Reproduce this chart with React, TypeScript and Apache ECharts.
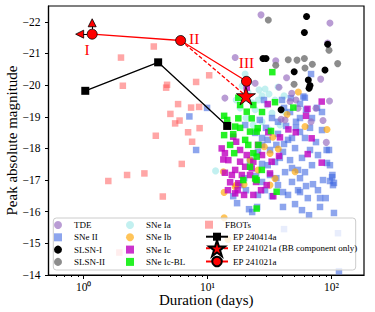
import React, { useEffect, useRef } from "react";
import * as echarts from "echarts";

const FONT = "'Liberation Serif', 'Times New Roman', serif";

// ---- axis ticks ----
const yTickValues = [-22, -21, -20, -19, -18, -17, -16, -15, -14];
const xMajorTicks = [1, 10, 100];
const xMinorTicks = [0.6, 0.7, 0.8, 0.9, 2, 3, 4, 5, 6, 7, 8, 9, 20, 30, 40, 50, 60, 70, 80, 90];
const superscripts: Record<number, string> = { 0: "\u2070", 1: "\u00B9", 2: "\u00B2" };

// ---- data: [duration (days), peak absolute magnitude] ----
const tde = [
  [27.0, -22.22], [97.2, -21.96], [93.1, -21.33], [16.7, -20.87], [35.5, -20.77], [43.4, -20.23],
  [81.8, -20.19], [37.7, -19.93], [13.8, -19.59], [24.2, -20.06], [47.8, -19.74], [51.7, -19.53],
  [46.3, -19.48], [96.4, -19.5], [75.0, -19.27], [53.7, -19.27], [39.2, -18.92], [68.4, -18.84],
  [85.4, -18.88], [90.8, -18.19], [42.2, -18.9],
];
const snII = [
  [28.5, -19.53], [39.9, -19.53], [55.7, -19.41], [62.3, -19.22], [76.4, -19.28], [46.3, -19.15],
  [33.1, -18.96], [51.7, -18.84], [43.0, -18.71], [67.1, -18.65], [83.8, -18.58], [55.7, -18.52],
  [37.0, -18.46], [29.6, -18.65], [27.5, -18.33], [44.6, -18.27], [61.1, -18.33], [75.0, -18.2],
  [95.5, -17.95], [92.0, -17.54], [101, -17.09], [102.8, -16.84], [85.4, -17.0], [50.8, -18.01],
  [40.6, -17.89], [31.9, -17.95], [25.5, -17.89], [22.0, -17.63], [27.5, -17.51], [35.0, -17.57],
  [46.3, -17.63], [57.8, -17.7], [69.6, -17.47], [53.7, -17.32], [42.2, -17.25], [31.9, -17.16],
  [24.6, -17.13], [19.7, -17.06], [27.5, -16.94], [37.0, -16.84], [48.0, -16.94], [62.3, -16.81],
  [77.8, -16.68], [55.7, -16.62], [44.6, -16.53], [53.7, -16.68], [70.9, -16.87], [97.2, -16.97],
  [104.7, -16.91], [16.1, -16.49], [17.3, -16.27], [21.6, -16.08], [22.9, -15.99], [25.1, -16.15],
  [40.6, -16.15], [50.8, -16.24], [57.8, -16.05], [65.9, -15.89], [80.8, -16.15], [104.7, -15.96],
  [41.4, -15.45], [112.8, -15.32], [114.9, -14.12], [7.13, -19.01], [8.08, -17.95], [9.9, -19.28],
  [68.4, -20.35], [30.6, -18.27], [35.9, -18.11], [41.4, -18.14], [48.0, -18.33], [38.3, -17.7],
  [30.6, -17.47], [48.0, -17.38], [61.1, -17.25], [35.9, -17.06], [29.1, -16.68], [40.6, -16.62],
  [64.4, -16.43], [80.8, -16.43], [89.8, -16.43], [33.1, -16.49], [55.7, -17.06], [67.1, -17.95],
  [77.8, -17.79], [25.5, -16.53], [20.4, -16.68], [18.3, -16.84], [27.5, -18.11], [24.2, -18.49],
  [20.1, -18.74], [26.4, -18.9], [37.0, -18.84], [55.7, -18.96], [69.6, -18.96], [83.8, -19.15],
  [41.4, -19.28], [51.7, -18.65], [59.3, -19.64], [47.0, -19.59], [61.0, -19.6], [91.4, -17.95],
  [97.2, -17.47], [101.7, -17.16],
];
const slsn1 = [
  [62.9, -22.17], [60.4, -21.66], [93.2, -21.29], [28.0, -20.84], [29.6, -20.84], [50.0, -20.42],
  [88.6, -20.48], [65.0, -20.16], [67.1, -19.99], [65.9, -19.9], [39.2, -19.22],
];
const slsn2 = [
  [30.9, -22.06], [95.5, -21.1], [44.8, -20.8], [52.7, -20.79], [60.4, -20.84], [35.5, -20.63],
  [61.1, -20.54], [70.0, -20.66], [112.2, -20.68], [49.9, -20.03],
];
const snIa = [
  [20.1, -20.35], [21.6, -20.1], [26.0, -19.85], [29.1, -19.88], [25.6, -19.53], [33.1, -19.12],
  [30.2, -19.37], [22.9, -19.44], [27.5, -19.66], [31.3, -19.72], [37.0, -19.94], [24.2, -19.22],
  [20.4, -18.96], [27.5, -18.84], [35.0, -19.53], [41.4, -19.66], [18.3, -19.28], [23.3, -18.74],
  [31.9, -18.58], [42.2, -19.15], [11.6, -17.29], [21.2, -19.78], [19.0, -19.97], [17.0, -19.53],
  [38.4, -18.74],
];
const snIb = [
  [54.0, -19.78], [43.8, -19.07], [92.0, -18.6], [61.1, -18.69], [28.7, -18.05], [37.2, -17.98],
  [33.6, -18.35], [50.8, -17.26], [31.9, -16.84], [13.4, -17.26], [17.0, -16.84], [19.7, -16.86],
  [13.6, -16.61], [16.7, -16.79], [13.6, -15.81], [14.6, -15.12], [35.0, -17.05], [31.9, -17.84],
  [22.0, -17.63], [25.5, -17.32],
];
const snIc = [
  [20.7, -19.92], [30.6, -19.4], [83.4, -19.48], [64.0, -19.25], [62.3, -19.03], [44.9, -18.6],
  [51.5, -18.51], [69.2, -18.32], [64.3, -17.82], [83.4, -17.55], [38.4, -18.35], [30.9, -18.51],
  [31.9, -17.21], [13.0, -18.0], [13.8, -17.85], [14.7, -17.63], [15.7, -17.16], [15.2, -16.93],
  [16.7, -17.32], [18.3, -17.58], [20.1, -17.42], [22.0, -17.16], [23.4, -17.58], [17.0, -18.21],
  [16.1, -18.37], [13.4, -17.65], [16.7, -16.58], [17.5, -16.68], [23.4, -16.53], [27.0, -16.68],
  [33.9, -16.49], [30.0, -16.84], [18.9, -17.16], [22.7, -17.37], [20.7, -17.79], [32.9, -17.58],
  [37.7, -17.76], [13.8, -17.23], [17.7, -16.9], [25.5, -18.11], [27.5, -17.79], [18.3, -17.95],
  [14.6, -16.68], [24.6, -16.94], [19.7, -16.53],
];
const snIcBL = [
  [33.3, -20.41], [13.6, -19.03], [13.6, -18.42], [16.1, -18.45], [17.7, -18.95], [16.7, -18.69],
  [20.7, -19.16], [22.0, -18.53], [24.9, -18.53], [23.4, -19.37], [18.3, -19.37], [22.7, -18.95],
  [23.4, -17.85], [21.3, -18.11], [24.9, -17.74], [22.0, -17.42], [35.0, -19.46], [49.2, -19.29],
  [32.5, -18.55], [25.4, -18.64], [25.7, -18.11], [24.9, -17.0], [27.4, -17.32], [16.4, -17.85],
  [19.4, -17.0], [24.2, -17.05], [36.1, -16.63], [24.9, -16.1], [17.7, -19.6], [14.4, -18.9],
  [15.2, -18.11], [20.1, -18.27], [27.5, -19.15], [18.3, -18.65],
];
const fbots = [
  [2.0, -20.87], [3.68, -21.22], [2.07, -19.98], [4.71, -20.01], [4.63, -19.92], [5.78, -19.4],
  [5.01, -19.09], [5.94, -18.88], [5.47, -18.79], [3.82, -18.4], [6.96, -18.51], [7.36, -19.29],
  [8.54, -19.31], [7.5, -18.21], [8.62, -18.64], [1.58, -16.97], [2.24, -17.16], [3.09, -17.21],
  [6.19, -17.51], [4.35, -16.48], [1.94, -14.71], [8.08, -20.1], [10.3, -20.31],
];
const ep240414a = [[1.03, -19.82], [3.99, -20.72], [14.4, -18.71]];
const ep241021a = [[1.171, -21.61], [6.06, -21.41], [20.6, -20.12]];
const ep241021aBB = [[6.06, -21.41], [20.4, -19.66]];
const epPhaseLabels = ["I", "II", "III"];
// limit arrows on phase I: [shaft start, tip]
const upLimit = [[1.171, -21.77], [1.171, -21.97]];
const leftLimit = [[1.067, -21.61], [0.928, -21.61]];

const legendCol1 = ["TDE", "SNe II", "SLSN-I", "SLSN-II"];
const legendCol2 = ["SNe Ia", "SNe Ib", "SNe Ic", "SNe Ic-BL"];
const squareSeries = ["SNe II", "SNe Ic", "SNe Ic-BL", "FBOTs"];

const SQUARE = "path://M0,0H10V10H0Z";
const STAR = "path://M50,0L61.2,34.6L97.6,34.5L68.1,55.9L79.4,90.5L50,69L20.6,90.5L31.9,55.9L2.4,34.5L38.8,34.6Z";

const labelPlacement = [
  { position: "bottom", offset: [-5, -3] },
  { position: "right", offset: [-2, -2] },
  { position: "top", offset: [0, 0] },
];

function scatter(name: string, data: number[][], symbol: string, color: string, opacity: number, size: number, z = 2) {
  return {
    type: "scatter",
    name,
    data,
    symbol,
    symbolSize: size,
    itemStyle: { color, opacity },
    z,
    silent: true,
  };
}

const legendItems = (names: string[]) =>
  names.map((n) => (squareSeries.includes(n) ? { name: n, icon: SQUARE } : { name: n }));

export default function App() {
  const ref = useRef<HTMLDivElement>(null);
  useEffect(() => {
    const chart = echarts.init(ref.current!, null, { renderer: "svg" });
    const legendText = { fontFamily: FONT, fontSize: 9, color: "#000", lineHeight: 10 };
    const legendBase = {
      orient: "vertical",
      padding: 0,
      itemWidth: 22,
      itemHeight: 8,
      itemGap: 2.3,
      selectedMode: false,
      symbolKeepAspect: true,
      textStyle: legendText,
      z: 5,
    };
    const option: any = {
      animation: false,
      grid: {
        left: 48.5, right: 11, top: 6, bottom: 37,
        outerBoundsMode: "none",
        containLabel: false,
        show: true, borderColor: "#000", borderWidth: 1.2, backgroundColor: "transparent",
      },
      xAxis: [
        {
          type: "log", logBase: 10, min: 0.52, max: 183,
          name: "Duration (days)", nameLocation: "middle", nameGap: 17, nameMoveOverlap: false,
          nameTextStyle: { fontFamily: FONT, fontSize: 15, color: "#000" },
          axisLine: { show: true, lineStyle: { color: "#000", width: 1.2 } },
          axisTick: { show: true, customValues: xMajorTicks, length: 4, lineStyle: { color: "#000" } },
          axisLabel: {
            customValues: xMajorTicks,
            margin: 6,
            fontFamily: FONT, fontSize: 11.5, color: "#000",
            formatter: (v: number) => "10" + superscripts[Math.round(Math.log10(v))],
          },
          splitLine: { show: false },
        },
        {
          type: "log", logBase: 10, min: 0.52, max: 183, position: "bottom",
          axisLine: { show: false },
          axisTick: { show: true, customValues: xMinorTicks, length: 2, lineStyle: { color: "#000" } },
          axisLabel: { show: false },
          splitLine: { show: false },
        },
      ],
      yAxis: {
        type: "value", min: -22.5, max: -14, inverse: true,
        name: "Peak absolute magnitude", nameLocation: "middle", nameGap: 29, nameMoveOverlap: false,
        nameTextStyle: { fontFamily: FONT, fontSize: 15, lineHeight: 15, color: "#000" },
        axisLine: { show: true, lineStyle: { color: "#000", width: 1.2 } },
        axisTick: { show: true, customValues: yTickValues, length: 3.5, lineStyle: { color: "#000" } },
        axisLabel: {
          customValues: yTickValues, margin: 8,
          fontFamily: FONT, fontSize: 11.5, color: "#000",
          formatter: (v: number) => (v < 0 ? "\u2212" : "") + Math.abs(v),
        },
        splitLine: { show: false },
      },
      legend: [
        { ...legendBase, data: legendItems(legendCol1), left: 54, top: 220 },
        { ...legendBase, data: legendItems(legendCol2), left: 126, top: 220 },
        { ...legendBase, data: legendItems(["FBOTs"]), left: 205, top: 219.7, itemHeight: 8 },
        { ...legendBase, data: ["EP 240414a"], left: 205, top: 231.7, itemHeight: 10 },
        { ...legendBase, data: ["EP 241021a (BB component only)"], left: 205, top: 239.3, itemHeight: 20 },
        { ...legendBase, data: ["EP 241021a"], left: 205, top: 255.7, itemHeight: 12 },
      ],
      graphic: [
        {
          type: "rect", z: 3, silent: true,
          shape: { x: 53.3, y: 218, width: 302.4, height: 52, r: 3 },
          style: { fill: "rgba(255,255,255,0.8)", stroke: "#cccccc", lineWidth: 1 },
        },
      ],
      series: [
        scatter("SNe Ia", snIa, "circle", "#8fe3e3", 0.55, 7),
        scatter("SNe II", snII, SQUARE, "#4169e1", 0.6, 6.5),
        scatter("SNe Ib", snIb, "circle", "#ffa500", 0.65, 7),
        scatter("TDE", tde, "circle", "#9467bd", 0.65, 7),
        scatter("SLSN-II", slsn2, "circle", "#808080", 0.9, 7),
        scatter("SLSN-I", slsn1, "circle", "#000000", 1, 7),
        scatter("SNe Ic", snIc, SQUARE, "#bf00bf", 0.8, 6.5),
        scatter("SNe Ic-BL", snIcBL, SQUARE, "#00ee00", 0.85, 6.5),
        scatter("FBOTs", fbots, SQUARE, "#ff4d4d", 0.5, 6.5),
        {
          type: "line", name: "EP 240414a", data: ep240414a, z: 6,
          symbol: SQUARE, symbolSize: 8, showSymbol: true,
          lineStyle: { color: "#000", width: 1.3 },
          itemStyle: { color: "#000" },
          silent: true,
        },
        {
          type: "line", name: "EP 241021a (BB component only)", z: 6,
          data: ep241021aBB.map((p, i) => (i === 0 ? { value: p, symbol: "none" } : { value: p })),
          symbol: STAR, symbolSize: 19, showSymbol: true, symbolKeepAspect: true,
          lineStyle: { color: "#ff0000", width: 1.3, type: [4, 2] },
          itemStyle: { color: "#ff0000", borderColor: "#000", borderWidth: 0.8 },
          silent: true,
        },
        {
          type: "line", name: "EP 241021a", z: 7,
          data: ep241021a.map((p, i) => ({
            value: p,
            label: {
              show: true,
              formatter: epPhaseLabels[i],
              position: labelPlacement[i].position,
              offset: labelPlacement[i].offset,
              color: "#ff0000",
              fontFamily: FONT,
              fontSize: 15.5,
            },
          })),
          symbol: "circle", symbolSize: 10, showSymbol: true,
          lineStyle: { color: "#ff0000", width: 1.3 },
          itemStyle: { color: "#ff0000", borderColor: "#000", borderWidth: 0.8 },
          markLine: {
            silent: true, symbol: ["none", "none"], label: { show: false },
            lineStyle: { color: "#000", width: 1, type: "solid" },
            data: [
              [{ coord: upLimit[0] }, { coord: upLimit[1] }],
              [{ coord: leftLimit[0] }, { coord: leftLimit[1] }],
            ],
          },
          markPoint: {
            silent: true, symbol: "triangle", symbolSize: 8, label: { show: false },
            itemStyle: { color: "#ff0000", borderColor: "#000", borderWidth: 0.8 },
            data: [
              { coord: upLimit[1] },
              { coord: leftLimit[1], symbolRotate: 90 },
            ],
          },
          silent: true,
        },
      ],
    };
    chart.setOption(option);
    return () => chart.dispose();
  }, []);
  return <div ref={ref} style={{ position: "absolute", left: 0, top: 0, width: 375, height: 312 }} />;
}
